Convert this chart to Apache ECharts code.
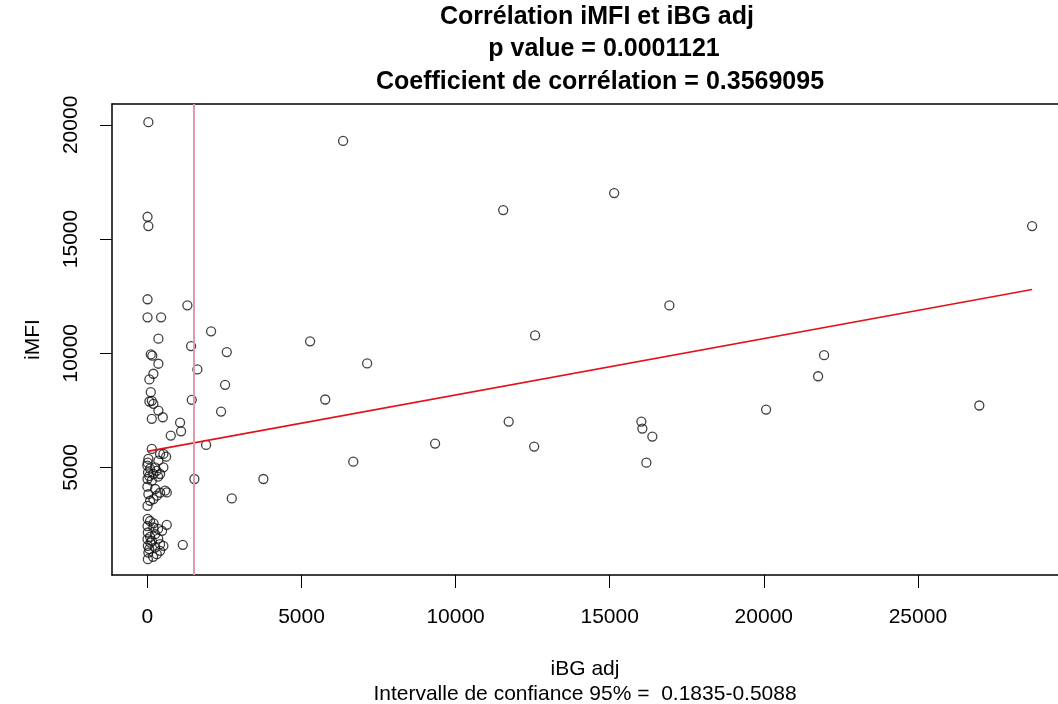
<!DOCTYPE html>
<html><head><meta charset="utf-8">
<script src="https://cdn.jsdelivr.net/npm/echarts@6/dist/echarts.min.js"></script>
<style>html,body{margin:0;padding:0;background:#fff}#c{width:1058px;height:704px}</style>
</head><body><div id="c"></div>
<script>
const titleLines = ['Corrélation iMFI et iBG adj', 'p value = 0.0001121', 'Coefficient de corrélation = 0.3569095'];
const xName = 'iBG adj\nIntervalle de confiance 95% =  0.1835-0.5088';
const yName = 'iMFI';
const xTicks = [0, 5000, 10000, 15000, 20000, 25000];
const yTicks = [5000, 10000, 15000, 20000];

const iBG = [
  6350, 15145, 11545, 28706, 16937, 5280, 7130, 5770, 6680, 9335, 11723, 12550, 12580, 16028, 16060, 16384, 16190, 20075, 21762, 21957, 26993,
  32, 5, 32, 5, 1298, 5, 445, 2067, 357, 1418, 2576, 110, 160, 357, 1622, 195, 65, 2521, 110, 65, 143, 195, 1440, 357, 500, 143, 2391, 1061, 1093, 759, 1905, 143, 412, 607, 1525, 3764, 2738, 629, 629, 1149, 16,
  519, 32, 357, 0, 250, 519, 20, 195, 412, 5, 143, 10, 347, 88, 300, 60,
  250, 574, 32, 305, 88, 5, 195, 412, 0,
  88, 5, 195, 15, 250, 5, 143, 412, 15, 250, 519, 32, 305, 88, 347, 10, 477, 185, 412, 100, 200, 60, 350
];
const iMFI = [
  19297, 17011, 16269, 15566, 12094, 10518, 9552, 7972, 5250, 6040, 7006, 5910, 10780, 7006, 6700, 6350, 5207, 7533, 8990, 9912, 7710,
  20118, 15975, 15566, 12362, 12098, 11571, 11571, 10957, 10636, 10312, 10048, 9947, 9890, 9539, 9289, 9100, 8850, 8617, 8293, 7884, 7913, 7783, 7959, 7489, 7195, 7125, 7445, 6962, 6580, 6391, 5983, 5808, 5588, 5470, 4491, 4491, 3640, 3903, 2485, 1607, 979,
  5588, 5369, 5294, 5075, 5000, 5000, 4780, 4710, 4710, 4491, 4416, 5206, 4592, 4943, 4850, 4620,
  4052, 3977, 3832, 3758, 3538, 3317, 3613, 3889, 4153,
  2650, 2430, 2366, 2147, 2076, 1857, 1782, 1637, 1563, 1488, 1563, 1269, 1198, 1958, 2309, 2748, 2221, 1080, 1343, 1700, 2550, 1420, 1880
];
const trendX = [0, 28706];
const trendY = [5700, 12790];
const thresholdX = 1493;

const FONT = "'Liberation Sans', Arial, Helvetica, sans-serif";
const points = iBG.map((x, i) => [x, iMFI[i]]);
const trend = trendX.map((x, i) => [x, trendY[i]]);

const chart = echarts.init(document.getElementById('c'), null, {renderer: 'canvas'});
const titleStyle = t => ({text: t, font: 'bold 25px ' + FONT, fill: '#000', textAlign: 'center', textVerticalAlign: 'middle'});
chart.setOption({
  animation: false,
  backgroundColor: '#fff',
  graphic: [
    {type: 'text', x: 597, y: 17, style: titleStyle(titleLines[0])},
    {type: 'text', x: 604, y: 49, style: titleStyle(titleLines[1])},
    {type: 'text', x: 600, y: 82, style: titleStyle(titleLines[2])}
  ],
  grid: {left: 112, top: 104, bottom: 129, right: 0, show: false, containLabel: false, outerBoundsMode: 'none'},
  xAxis: [{
    type: 'value', min: -1148, max: 29546, position: 'bottom',
    name: xName, nameLocation: 'middle', nameGap: 82,
    nameTextStyle: {fontFamily: FONT, fontSize: 21, color: '#000', lineHeight: 25},
    splitLine: {show: false},
    axisLine: {show: true, onZero: false, lineStyle: {color: '#000', width: 1.5}},
    axisTick: {show: true, length: 13, lineStyle: {color: '#000', width: 1}, customValues: xTicks},
    axisLabel: {fontFamily: FONT, fontSize: 21, color: '#000', margin: 32, customValues: xTicks, formatter: v => String(v)}
  }, {
    type: 'value', min: -1148, max: 29546, position: 'top',
    splitLine: {show: false}, axisTick: {show: false}, axisLabel: {show: false},
    axisLine: {show: true, onZero: false, lineStyle: {color: '#000', width: 1.5}}
  }],
  yAxis: {
    type: 'value', min: 286, max: 20914,
    name: yName, nameLocation: 'middle', nameGap: 68,
    nameTextStyle: {fontFamily: FONT, fontSize: 21, color: '#000'},
    splitLine: {show: false},
    axisLine: {show: true, onZero: false, lineStyle: {color: '#000', width: 1.5}},
    axisTick: {show: true, length: 12, lineStyle: {color: '#000', width: 1}, customValues: yTicks},
    axisLabel: {fontFamily: FONT, fontSize: 21, color: '#000', margin: 30, rotate: 90, customValues: yTicks, formatter: v => String(v)}
  },
  series: [
    {
      type: 'scatter', data: points, symbol: 'circle', symbolSize: 9,
      itemStyle: {color: 'rgba(0,0,0,0)', borderColor: '#111', borderWidth: 1.3},
      markLine: {silent: true, symbol: ['none', 'none'], label: {show: false},
        lineStyle: {color: '#e09aaa', width: 2, type: 'solid'},
        data: [{xAxis: thresholdX}]},
      z: 3
    },
    {
      type: 'line', data: trend, symbol: 'none',
      lineStyle: {color: '#e3121b', width: 1.6}, z: 4
    }
  ]
});
</script>
</body></html>
